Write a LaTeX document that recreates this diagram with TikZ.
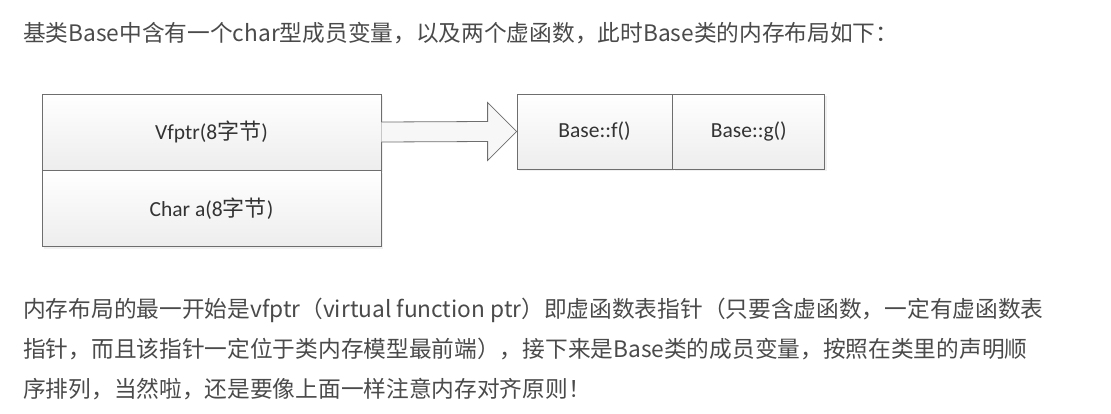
\documentclass[tikz,border=0pt]{standalone}
\usepackage{fontspec}
\setmainfont{Noto Sans CJK SC}
\newfontfamily\cjk{Noto Sans CJK SC}
\newfontfamily\boxfont{Carlito}
\usetikzlibrary{positioning,calc,shadows}
\definecolor{bodygray}{HTML}{4A4A4A}
\definecolor{linegray}{HTML}{6E6E6E}
\newcommand{\zh}[1]{{\cjk\fontsize{22}{26}\selectfont #1}}

\tikzset{
  bodytext/.style={anchor=base west, inner sep=0pt, text=bodygray, font=\fontsize{22.7}{26}\selectfont},
  cell/.style={draw=linegray, line width=0.8pt, top color=white, bottom color=gray!14,
               inner sep=0pt, text=black!80, font=\boxfont\fontsize{21.5}{24}\selectfont,
               drop shadow={opacity=0.12, shadow xshift=2pt, shadow yshift=-2pt}},
  blockarrow/.style={draw=linegray, line width=0.8pt, fill=gray!6},
}

\begin{document}
\begin{tikzpicture}[x=1pt,y=-1pt]
    \useasboundingbox (0,0) rectangle (1111,413);

    \node [bodytext] (intro) at (23,41) {基类Base中含有一个char型成员变量，以及两个虚函数，此时Base类的内存布局如下：};

    % object layout
    \node [cell, minimum width=339pt, minimum height=76pt] (vptr) at (211.5,132) {Vfptr(8\zh{字节})};
    \node [cell, minimum width=339pt, minimum height=76pt, below=0pt of vptr] (chara) {Char a(8\zh{字节})};

    % virtual table
    \node [cell, minimum width=155pt, minimum height=75pt] (fslot) at (594.5,131.5) {Base::f()};
    \node [cell, minimum width=152pt, minimum height=75pt, right=0pt of fslot] (gslot) {Base::g()};

    \draw [blockarrow] ($(vptr.east)+(0,-10)$) -- ($(fslot.west)+(-29,-10)$) -- ($(fslot.west)+(-29,-29)$)
        -- (fslot.west) -- ($(fslot.west)+(-29,29)$) -- ($(fslot.west)+(-29,10)$) -- ($(vptr.east)+(0,10)$);

    \node [bodytext] (note1) at (23,317) {内存布局的最一开始是vfptr（virtual function ptr）即虚函数表指针（只要含虚函数，一定有虚函数表};
    \node [bodytext] (note2) at (23,357) {指针，而且该指针一定位于类内存模型最前端），接下来是Base类的成员变量，按照在类里的声明顺};
    \node [bodytext] (note3) at (23,397) {序排列，当然啦，还是要像上面一样注意内存对齐原则！};
\end{tikzpicture}
\end{document}
